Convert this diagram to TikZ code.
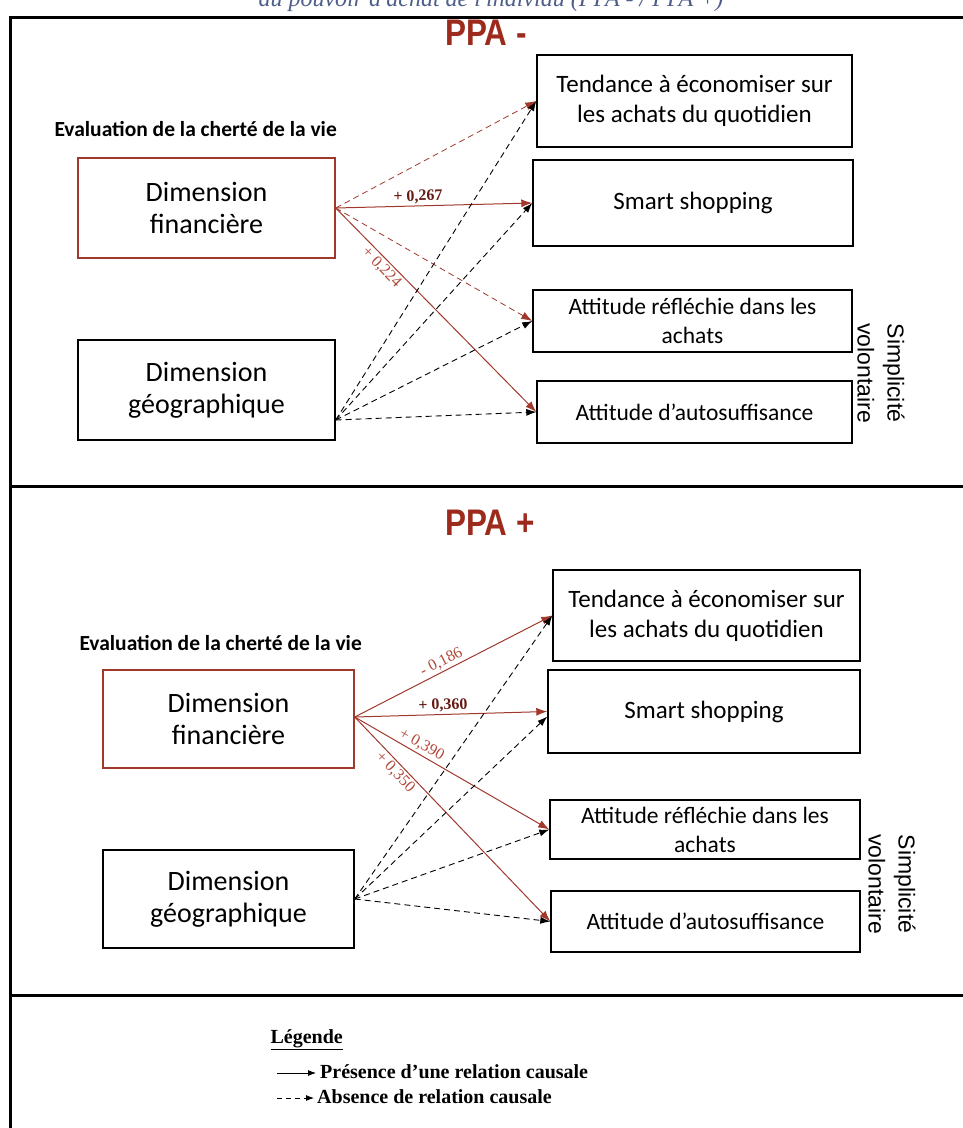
\documentclass[tikz,border=0pt]{standalone}
\usepackage{fontspec}
\usetikzlibrary{arrows.meta,calc}
\newfontfamily\calfont{Carlito}
\newfontfamily\tmsfont{Liberation Serif}
\newfontfamily\arlfont{Liberation Sans}
\newfontfamily\condfont[FakeStretch=0.85]{Liberation Sans}
\definecolor{bordred}{RGB}{160,56,43}
\definecolor{titred}{RGB}{156,43,30}
\definecolor{lbldark}{RGB}{100,28,20}
\definecolor{lbllight}{RGB}{176,72,58}
\definecolor{capblue}{RGB}{78,94,136}
\tikzset{
  frame/.style={line width=3pt},
  box/.style={draw, line width=1.4pt, align=center, inner sep=2pt},
  redbox/.style={box, draw=bordred},
  bigtxt/.style={font=\calfont\fontsize{28}{32}\selectfont},
  medtxt/.style={font=\calfont\fontsize{25}{30}\selectfont},
  smltxt/.style={font=\calfont\fontsize{23.5}{29}\selectfont},
  evaltxt/.style={font=\calfont\bfseries\fontsize{21.5}{24}\selectfont, anchor=west},
  ppatitle/.style={font=\condfont\bfseries\fontsize{37}{40}\selectfont, text=titred},
  simpl/.style={font=\arlfont\fontsize{23}{30}\selectfont, rotate=-90, align=center},
  redsolid/.style={draw=bordred, line width=1pt, -{Latex[length=11pt,width=8pt]}},
  reddash/.style={draw=bordred, line width=0.8pt, dash pattern=on 6pt off 4pt, -{Latex[length=11pt,width=8pt]}},
  blkdash/.style={draw=black, line width=0.9pt, dash pattern=on 6pt off 4pt, -{Latex[length=10pt,width=7pt]}},
  lblbold/.style={font=\tmsfont\bfseries\fontsize{16}{18}\selectfont, text=lbldark, sloped, inner sep=2pt},
  lbllt/.style={font=\tmsfont\fontsize{16}{18}\selectfont, text=lbllight, sloped, inner sep=2pt},
  legtxt/.style={font=\tmsfont\bfseries\fontsize{20}{22}\selectfont, anchor=west, inner sep=1pt},
}
\begin{document}
\begin{tikzpicture}[x=1pt,y=-1pt]
\useasboundingbox (0,0) rectangle (962,1128);
% caption (cut off)
\node[font=\tmsfont\itshape\fontsize{24}{26}\selectfont, text=capblue, anchor=base] (cap) at (491,6) {au pouvoir d'achat de l'individu (PPA - / PPA +)};
% frame
\draw[frame] (10,1140) -- (10,17) -- (975,17);
\draw[frame] (10,486) -- (975,486);
\draw[frame] (10,995) -- (975,995);

% ===== PPA - =====
\node[ppatitle] (t1) at (486,33) {PPA -};
\node[evaltxt] (e1) at (51,129) {Evaluation de la cherté de la vie};
\node[redbox, bigtxt, minimum width=257pt, minimum height=100pt] (fin1) at (206.5,208) {Dimension\\financière};
\node[box, bigtxt, minimum width=257pt, minimum height=100pt] (geo1) at (206.5,390) {Dimension\\géographique};
\node[box, medtxt, minimum width=315pt, minimum height=92pt] (tend1) at (694.5,101) {Tendance à économiser sur\\les achats du quotidien};
\node[box, medtxt, minimum width=320pt, minimum height=86pt] (smart1) at (693,203) {Smart shopping};
\node[box, smltxt, minimum width=319pt, minimum height=62pt] (refl1) at (692.5,321) {Attitude réfléchie  dans les\\achats};
\node[box, smltxt, minimum width=315pt, minimum height=62pt] (auto1) at (694.5,412) {Attitude d’autosuffisance};
\node[simpl] (s1) at (881,373) {Simplicité\\volontaire};
\coordinate (g1) at ($(geo1.east)+(0,30)$);
\draw[reddash] (fin1.east) -- (tend1.west);
\draw[redsolid] (fin1.east) -- node[lblbold, above, pos=0.42] {+ 0,267} (smart1.west);
\draw[reddash] (fin1.east) -- (refl1.west);
\draw[redsolid] (fin1.east) -- node[lbllt, below, pos=0.26] {+ 0,224} (auto1.west);
\draw[blkdash] (g1) -- (tend1.west);
\draw[blkdash] (g1) -- (smart1.west);
\draw[blkdash] (g1) -- (refl1.west);
\draw[blkdash] (g1) -- (auto1.west);

% ===== PPA + =====
\node[ppatitle] (t2) at (490,523) {PPA +};
\node[evaltxt] (e2) at (76,643) {Evaluation de la cherté de la vie};
\node[redbox, bigtxt, minimum width=251pt, minimum height=98pt] (fin2) at (228.5,719) {Dimension\\financière};
\node[box, bigtxt, minimum width=251pt, minimum height=98pt] (geo2) at (228.5,899) {Dimension\\géographique};
\node[box, medtxt, minimum width=307pt, minimum height=91pt] (tend2) at (706.5,615.5) {Tendance à économiser sur\\les achats du quotidien};
\node[box, medtxt, minimum width=312pt, minimum height=83pt] (smart2) at (704,711.5) {Smart shopping};
\node[box, smltxt, minimum width=310pt, minimum height=59pt] (refl2) at (705,829.5) {Attitude réfléchie  dans les\\achats};
\node[box, smltxt, minimum width=309pt, minimum height=61pt] (auto2) at (705.5,921.5) {Attitude d’autosuffisance};
\node[simpl] (s2) at (892,884) {Simplicité\\volontaire};
\coordinate (f2) at ($(fin2.east)+(0,-2)$);
\draw[redsolid] (f2) -- node[lbllt, above, pos=0.46] {- 0,186} (tend2.west);
\draw[redsolid] (f2) -- node[lblbold, above, pos=0.46] {+ 0,360} (smart2.west);
\draw[redsolid] (f2) -- node[lbllt, above, pos=0.32] {+ 0,390} (refl2.west);
\draw[redsolid] (f2) -- node[lbllt, below, pos=0.24] {+ 0,350} (auto2.west);
\draw[blkdash] (geo2.east) -- (tend2.west);
\draw[blkdash] (geo2.east) -- ($(smart2.west)+(0,5)$);
\draw[blkdash] (geo2.east) -- (refl2.west);
\draw[blkdash] (geo2.east) -- (auto2.west);

% ===== Legend =====
\node[font=\tmsfont\bfseries\fontsize{20}{22}\selectfont, anchor=west] (leg) at (267,1040) {\underline{Légende}};
\coordinate (l1a) at (277,1073);
\coordinate (l1b) at (316,1073);
\coordinate (l2a) at (277,1098);
\coordinate (l2b) at (314,1098);
\draw[line width=0.8pt, -{Latex[length=8pt,width=6pt]}] (l1a) -- (l1b);
\draw[line width=0.8pt, dash pattern=on 5pt off 4pt, -{Latex[length=8pt,width=6pt]}] (l2a) -- (l2b);
\node[legtxt] (lt1) at ($(l1b)+(3,-1)$) {Présence d’une relation  causale};
\node[legtxt] (lt2) at ($(l2b)+(2,-1)$) {Absence de relation  causale};
\end{tikzpicture}
\end{document}
